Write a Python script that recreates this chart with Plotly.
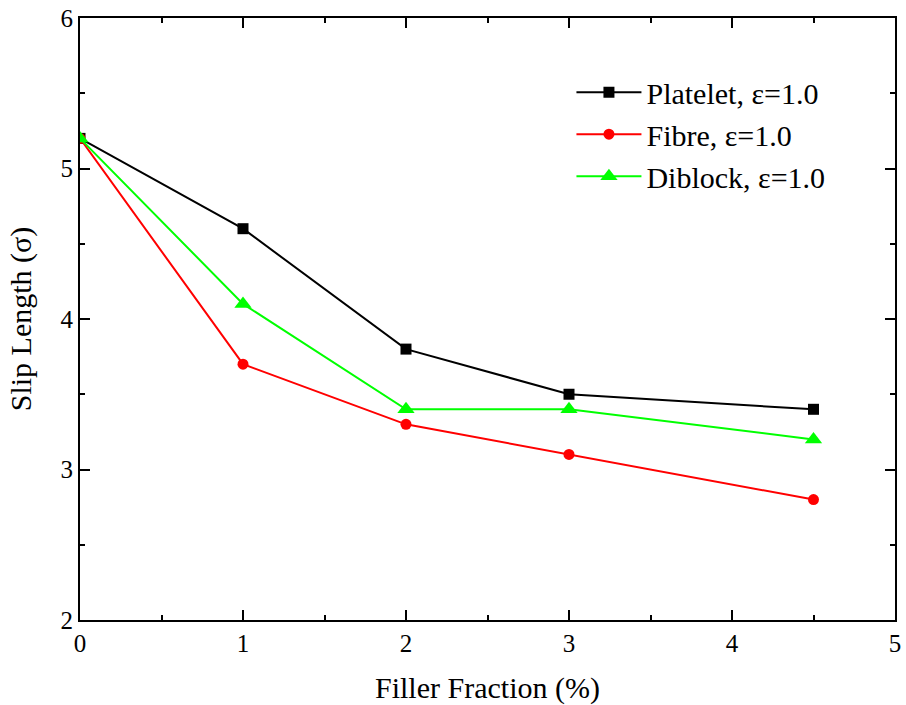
import plotly.graph_objects as go

filler = [0, 1, 2, 3, 4.5]
platelet = [5.2, 4.6, 3.8, 3.5, 3.4]
fibre = [5.2, 3.7, 3.3, 3.1, 2.8]
diblock = [5.2, 4.1, 3.4, 3.4, 3.2]

names = ["Platelet, ε=1.0", "Fibre, ε=1.0", "Diblock, ε=1.0"]
series = [platelet, fibre, diblock]
colors = ["#000000", "#ff0000", "#00ff00"]
symbols = ["square", "circle", "triangle-up"]
sizes = [11, 11, 15]

fig = go.Figure()
for n, s, c, sym, sz in zip(names, series, colors, symbols, sizes):
    fig.add_trace(go.Scatter(
        x=filler, y=s, name=n, mode="lines+markers",
        line=dict(color=c, width=2),
        marker=dict(symbol=sym, size=sz, color=c),
    ))

font = "Liberation Serif, Times New Roman, serif"
axis_common = dict(
    showline=True, linecolor="black", linewidth=2, mirror="allticks",
    ticks="inside", ticklen=10, tickwidth=2, tickcolor="black",
    showgrid=False, zeroline=False,
    tickfont=dict(family=font, size=25, color="black"),
    minor=dict(ticks="inside", ticklen=5, tickwidth=2, tickcolor="black", showgrid=False),
)

fig.update_layout(
    width=906, height=705,
    margin=dict(l=80, r=5, t=16, b=85),
    paper_bgcolor="white", plot_bgcolor="white",
    font=dict(family=font, color="black"),
    xaxis=dict(range=[0, 5], dtick=1, minor_dtick=0.5,
               title=dict(text="Filler Fraction (%)", font=dict(family=font, size=30), standoff=22),
               **axis_common),
    yaxis=dict(range=[2, 6], dtick=1, minor_dtick=0.5,
               title=dict(text="Slip Length (σ)", font=dict(family=font, size=30), standoff=20),
               **axis_common),
    legend=dict(x=0.603, y=0.92, xanchor="left", yanchor="top",
                font=dict(family=font, size=30, color="black"),
                bgcolor="rgba(0,0,0,0)", itemwidth=65),
    showlegend=True,
)

fig.write_html("out.html")
